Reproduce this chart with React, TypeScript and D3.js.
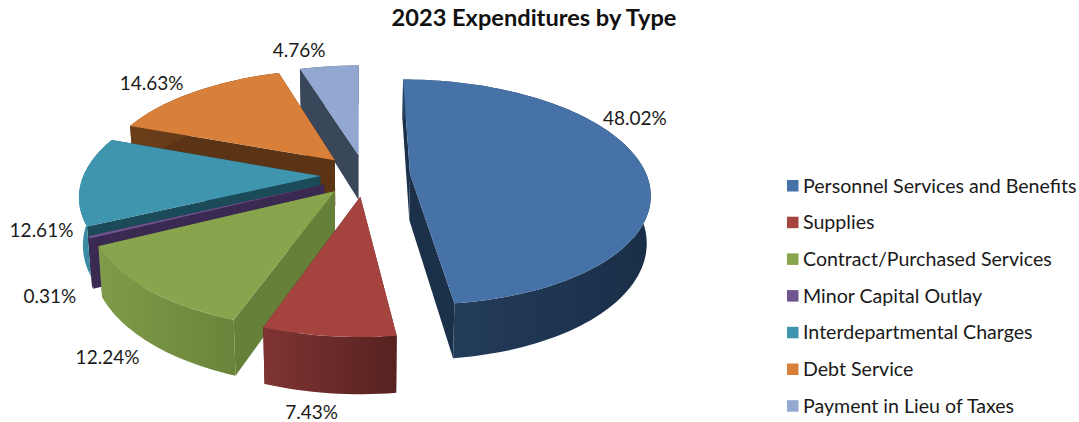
import React from "react";
import * as d3 from "d3";

const categories = [
  "Personnel Services and Benefits",
  "Supplies",
  "Contract/Purchased Services",
  "Minor Capital Outlay",
  "Interdepartmental Charges",
  "Debt Service",
  "Payment in Lieu of Taxes",
];
const shares = [48.02, 7.43, 12.24, 0.31, 12.61, 14.63, 4.76];
const topColors = ["#4672a7", "#a5433f", "#88a44c", "#6f548f", "#3f94ae", "#d8803a", "#92a8d0"];
const radialWallColors = ["#1b3049", "#5a2422", "#66803a", "#3a2a52", "#1b4a58", "#5b3415", "#3a4659"];
const rimWallStops = [
  ["#25405f", "#1a2e47"],
  ["#7f3432", "#562220"],
  ["#809b49", "#6a853b"],
  ["#3a2a52", "#3a2a52"],
  ["#3f8fa8", "#2f7c92"],
  ["#6b3e19", "#5b3415"],
  ["#3a4659", "#3a4659"],
];
const labelNudges: [number, number][] = [
  [-8, -49], [-17, 76], [-40, 68], [-39, 59], [-40, 50], [-43, -8], [-30, -16],
];
// back-to-front painting order of the slices
const paintOrder = [6, 5, 4, 3, 2, 1, 0];

const FONT = "Lato, 'Open Sans', sans-serif";

// Perspective model of the pie's ground plane, in units of the pie radius.
const VANISH_X = 360;
const VANISH_Y = -506;
const PLANE_DROP = 679;
const RADIUS_X = 235.9;
const DEPTH_K = 0.161;
const THICKNESS = 46;
const BASE_SHRINK = 0.014;
const CENTER_X = 0.022;
const CENTER_Z = 0.02;
const EXPLODE = 0.19;

function project(X: number, Z: number, level: number): [number, number] {
  const s = 1 / (1 - DEPTH_K * Z);
  return [
    VANISH_X + RADIUS_X * X * s * (1 - BASE_SHRINK * level),
    VANISH_Y + (PLANE_DROP + THICKNESS * level) * s,
  ];
}

function slicePoint(mid: number, theta: number, r: number, level: number) {
  const X = CENTER_X + EXPLODE * Math.sin(mid) + r * Math.sin(theta);
  const Z = CENTER_Z - EXPLODE * Math.cos(mid) - r * Math.cos(theta);
  return project(X, Z, level);
}

const pieAngles = d3.pie<number>().sort(null).value((d) => d)(shares);
const pathOf = d3.line().curve(d3.curveLinear);
const pct = d3.format(".2f");

export default function App() {
  const slices = pieAngles.map((a, i) => {
    const mid = (a.startAngle + a.endAngle) / 2;
    const steps = Math.max(2, Math.ceil((a.endAngle - a.startAngle) / 0.03));
    const thetas = d3.range(steps + 1).map((k) => a.startAngle + ((a.endAngle - a.startAngle) * k) / steps);
    const topRim = thetas.map((t) => slicePoint(mid, t, 1, 0));
    const baseRim = thetas.map((t) => slicePoint(mid, t, 1, 1));
    const apexTop = slicePoint(mid, 0, 0, 0);
    const apexBase = slicePoint(mid, 0, 0, 1);
    const top = pathOf([apexTop, ...topRim])! + "Z";
    const rimWall = pathOf([...topRim, ...[...baseRim].reverse()])! + "Z";
    const wallA = pathOf([apexTop, topRim[0], baseRim[0], apexBase])! + "Z";
    const wallB = pathOf([apexTop, topRim[steps], baseRim[steps], apexBase])! + "Z";
    const [xA, xB] = d3.extent(topRim, (p) => p[0]) as [number, number];
    const labelAt = slicePoint(mid, mid, 1, 0);
    return { i, top, rimWall, wallA, wallB, xA, xB, labelAt };
  });

  return (
    <svg width={1079} height={422} style={{ position: "absolute", left: 0, top: 0 }}>
      <defs>
        {slices.map((s) => (
          <linearGradient key={s.i} id={`rim-${s.i}`} gradientUnits="userSpaceOnUse" x1={s.xA} x2={s.xB} y1={0} y2={0}>
            <stop offset="0" stopColor={rimWallStops[s.i][0]} />
            <stop offset="1" stopColor={rimWallStops[s.i][1]} />
          </linearGradient>
        ))}
      </defs>
      <rect width={1079} height={422} fill="#fff" />
      <text x={534} y={26} textAnchor="middle" fontFamily={FONT} fontWeight={700} fontSize={23.6} fill="#111">
        2023 Expenditures by Type
      </text>
      {paintOrder.map((idx) => {
        const s = slices[idx];
        return (
          <g key={idx}>
            <path d={s.wallA} fill={radialWallColors[idx]} />
            <path d={s.wallB} fill={radialWallColors[idx]} />
            <path d={s.rimWall} fill={`url(#rim-${idx})`} />
            <path d={s.top} fill={topColors[idx]} />
          </g>
        );
      })}
      {slices.map((s) => (
        <text
          key={s.i}
          x={s.labelAt[0] + labelNudges[s.i][0]}
          y={s.labelAt[1] + labelNudges[s.i][1] + 6.5}
          textAnchor="middle"
          fontFamily={FONT}
          fontSize={19}
          fill="#1a1a1a"
        >
          {pct(shares[s.i])}%
        </text>
      ))}
      {categories.map((c, i) => {
        const y = 186 + i * 36.7;
        return (
          <g key={c}>
            <rect x={787} y={y - 6} width={11.5} height={11.5} fill={topColors[i]} />
            <text x={803} y={y + 6.5} fontFamily={FONT} fontSize={19.6} fill="#1a1a1a">
              {c}
            </text>
          </g>
        );
      })}
    </svg>
  );
}
